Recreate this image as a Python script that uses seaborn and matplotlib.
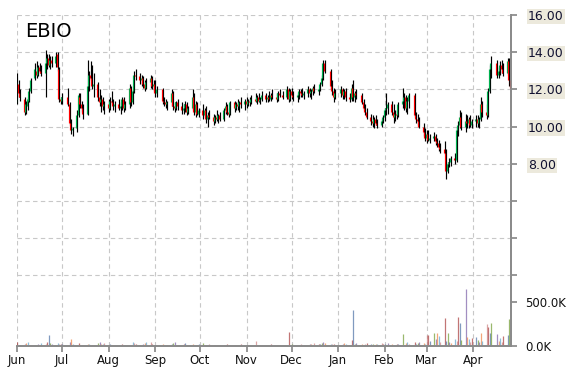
import numpy as np
import pandas as pd
import matplotlib
matplotlib.use("Agg")
import matplotlib.pyplot as plt
import seaborn as sns

sns.set_theme(style="white")
plt.rcParams['font.family'] = ['DejaVu Sans']

# ---------------- data ----------------
ticker = "EBIO"
holidays = ["2016-07-04", "2016-09-05", "2016-11-24", "2016-12-26",
            "2017-01-02", "2017-01-16", "2017-02-20", "2017-04-14"]
start_date, end_date = "2016-06-01", "2017-04-26"

opens = [
    11.3,12.3,11.8,11.5,10.8,11.1,11.4,11.9,12.6,13.0,12.8,13.2,13.0,12.9,13.4,13.7,13.3,13.6,13.4,13.9,13.1,11.5,
    11.4,11.6,11.2,10.2,9.8,9.9,10.6,11.6,11.2,11.0,10.7,12.2,12.8,12.6,12.2,12.3,11.6,11.3,11.5,11.1,
    11.2,11.0,11.4,11.3,11.1,11.2,11.0,11.1,11.5,11.0,11.2,12.1,11.3,11.9,12.8,12.7,12.5,12.6,12.3,12.1,12.4,12.6,12.2,
    12.3,11.8,12.0,11.4,11.3,11.2,11.3,11.8,11.1,11.0,11.3,11.1,10.9,11.0,11.2,10.8,11.0,11.6,10.8,11.2,10.7,
    10.9,10.6,10.9,10.4,10.6,10.5,10.3,10.5,10.4,10.6,10.4,10.9,11.1,10.8,10.7,11.3,11.0,11.2,11.1,11.3,11.2,
    11.4,11.2,11.4,11.3,11.5,11.4,11.6,11.4,11.5,11.7,11.5,11.6,11.5,11.7,11.6,11.5,11.8,11.7,11.6,12.0,11.5,
    11.9,11.7,11.6,11.7,11.9,11.8,11.7,11.8,12.0,11.8,11.9,12.1,11.9,12.0,12.3,12.6,13.4,13.0,12.2,11.9,11.6,
    11.8,12.0,11.7,11.9,11.6,11.5,12.1,11.6,11.8,11.7,11.3,11.0,10.8,10.5,10.3,10.2,10.4,10.2,10.1,10.3,
    10.5,10.9,11.0,11.2,10.8,10.5,10.7,10.6,11.2,11.4,11.6,11.0,11.4,11.7,10.6,10.4,10.3,10.0,9.7,
    9.4,9.6,9.3,9.4,9.5,9.2,9.1,8.9,8.8,8.6,7.6,8.0,8.1,8.3,8.2,9.8,10.1,10.5,10.0,10.3,10.2,10.4,10.1,
    10.3,10.4,10.2,10.4,11.2,10.8,10.6,11.9,13.1,13.4,12.8,13.0,13.3,13.1,12.9,13.5,12.5,
]
highs = [
    12.9,12.5,12.0,11.6,11.4,11.6,12.1,12.6,13.4,13.5,13.3,13.4,13.3,14.1,13.9,13.9,13.8,13.8,14.0,14.0,13.2,11.6,
    11.8,12.1,11.3,10.4,10.0,10.9,11.8,11.8,11.4,11.2,13.6,13.0,13.5,13.3,12.9,12.4,12.0,11.7,11.6,11.4,
    11.5,11.6,11.9,11.5,11.4,11.5,11.3,11.6,11.6,11.4,12.3,12.2,12.0,13.0,13.1,12.9,12.8,12.7,12.5,12.6,12.8,12.7,12.5,
    12.5,12.2,12.1,11.6,11.5,11.4,12.0,11.9,11.3,11.4,11.5,11.3,11.2,11.4,11.3,11.1,12.0,11.8,11.4,11.3,11.0,
    11.2,11.0,11.1,10.8,10.9,10.7,10.6,10.9,10.7,10.8,11.0,11.3,11.2,11.0,11.4,11.4,11.3,11.5,11.4,11.6,11.5,
    11.6,11.5,11.6,11.7,11.8,11.7,11.8,11.6,11.9,11.8,11.7,11.9,11.8,12.0,11.8,11.9,12.0,11.9,12.2,12.1,12.0,
    12.1,11.9,11.8,12.0,12.0,12.1,11.9,12.2,12.1,12.0,12.2,12.3,12.1,12.4,12.8,13.6,13.6,13.1,12.5,12.1,12.0,
    12.2,12.1,12.0,12.1,11.8,12.3,12.5,11.9,12.0,11.8,11.5,11.2,11.0,10.7,10.6,10.5,10.6,10.4,10.4,10.6,
    11.0,11.8,11.3,11.4,11.2,10.9,10.9,11.3,12.1,11.8,11.7,11.6,11.8,11.8,10.8,10.7,10.5,10.2,9.9,
    9.8,9.8,9.6,9.7,9.6,9.4,9.3,9.1,9.2,8.8,8.1,8.3,8.4,8.6,10.0,10.3,10.9,10.8,10.7,10.6,10.5,10.6,10.4,
    10.6,10.6,10.5,11.6,11.4,11.2,12.1,13.3,13.8,13.6,13.2,13.5,13.6,13.4,13.7,13.7,12.6,
]
lows = [
    11.2,11.6,11.4,10.6,10.7,10.9,11.3,11.8,12.5,12.6,12.7,12.9,12.7,11.6,13.1,13.2,13.1,13.2,13.2,13.0,11.3,11.2,
    11.2,11.1,10.1,9.6,9.5,9.7,10.5,11.0,10.8,10.4,10.6,11.9,12.5,12.0,11.6,11.4,11.1,10.8,10.9,10.7,
    10.8,10.9,11.2,10.9,10.8,10.9,10.7,10.9,10.8,10.9,11.0,11.1,11.2,11.8,12.5,12.3,12.2,12.1,11.9,12.0,12.1,12.0,11.9,
    11.6,11.6,11.2,11.1,11.0,10.9,11.1,10.9,10.8,10.9,10.9,10.7,10.7,10.8,10.6,10.7,10.9,10.6,10.5,10.6,10.5,
    10.4,10.5,10.2,10.0,10.4,10.1,10.2,10.3,10.2,10.3,10.3,10.7,10.6,10.5,10.6,10.8,10.9,10.9,10.8,11.0,10.9,
    11.0,11.1,11.1,11.2,11.3,11.2,11.3,11.2,11.4,11.3,11.3,11.4,11.4,11.5,11.3,11.4,11.6,11.5,11.5,11.3,11.4,
    11.5,11.4,11.3,11.5,11.6,11.6,11.5,11.6,11.6,11.5,11.7,11.8,11.7,11.9,12.2,12.5,12.9,12.0,11.7,11.3,11.5,
    11.6,11.5,11.5,11.4,11.3,11.4,11.4,11.3,11.5,11.2,10.9,10.6,10.4,10.1,10.0,9.9,10.1,9.9,10.0,10.2,
    10.3,10.6,10.7,10.6,10.2,10.3,10.4,10.5,11.0,10.9,10.8,10.7,11.0,10.5,10.2,10.1,9.9,9.5,9.2,
    9.1,9.2,9.1,9.2,9.0,8.9,8.7,8.6,8.5,7.2,7.5,7.8,7.9,8.0,8.1,9.5,9.9,9.8,9.7,9.9,9.9,10.0,9.9,
    10.0,10.0,9.9,10.3,10.5,10.4,10.5,11.8,12.6,12.6,12.6,12.8,12.9,12.7,12.8,12.2,11.9,
]
closes = [
    12.4,11.8,11.6,10.8,11.2,11.5,11.9,12.5,13.1,12.8,13.2,13.0,12.9,13.4,13.7,13.3,13.6,13.4,13.8,13.2,11.5,11.4,
    11.6,11.2,10.2,9.8,9.9,10.6,11.7,11.2,11.0,10.7,12.2,12.8,12.6,12.2,12.3,11.6,11.3,11.5,11.1,11.2,
    11.0,11.4,11.3,11.1,11.2,11.0,11.1,11.5,11.0,11.2,12.1,11.3,11.9,12.8,12.7,12.5,12.6,12.3,12.1,12.4,12.6,12.2,12.3,
    11.8,12.0,11.4,11.3,11.2,11.3,11.8,11.1,11.0,11.3,11.1,10.9,11.0,11.2,10.8,11.0,11.6,10.8,11.2,10.7,10.9,
    10.6,10.9,10.4,10.6,10.5,10.3,10.5,10.4,10.6,10.4,10.9,11.1,10.8,10.7,11.3,11.0,11.2,11.1,11.3,11.2,11.4,
    11.2,11.4,11.3,11.5,11.4,11.6,11.4,11.5,11.7,11.5,11.6,11.5,11.7,11.6,11.5,11.8,11.7,11.6,12.0,11.5,11.9,
    11.7,11.6,11.7,11.9,11.8,11.7,11.8,12.0,11.8,11.9,12.1,11.9,12.0,12.3,12.6,13.4,13.0,12.2,11.9,11.6,11.8,
    12.0,11.7,11.9,11.6,11.5,12.1,11.6,11.8,11.7,11.3,11.0,10.8,10.5,10.3,10.2,10.4,10.2,10.1,10.3,10.5,
    10.9,11.0,11.2,10.8,10.5,10.7,10.6,11.2,11.4,11.6,11.0,11.4,11.7,10.6,10.4,10.3,10.0,9.7,9.4,
    9.6,9.3,9.4,9.5,9.2,9.1,8.9,8.8,8.6,7.6,8.0,8.1,8.3,8.2,9.8,10.1,10.5,10.0,10.3,10.2,10.4,10.1,10.3,
    10.4,10.2,10.4,11.2,10.8,10.6,11.9,13.1,13.4,12.8,13.0,13.3,13.1,12.9,13.5,12.5,12.1,
]
volume_k = [
    45,10,15,20,30,40,15,10,8,12,20,15,30,25,40,125,30,20,15,30,25,20,
    20,15,40,75,20,15,30,10,15,12,20,25,15,10,15,30,45,20,25,30,
    15,20,10,8,15,12,10,20,15,8,15,10,50,30,20,15,12,25,30,40,45,20,10,
    15,10,20,12,15,10,20,35,40,15,10,12,20,30,10,15,20,12,10,15,20,
    30,15,10,12,20,10,8,15,10,12,10,15,20,10,12,10,8,15,10,20,12,
    15,10,12,10,60,15,10,12,10,15,12,10,20,15,10,8,12,10,15,160,12,
    20,15,10,12,20,15,10,15,25,20,15,30,25,20,35,40,30,20,25,20,15,
    15,20,30,25,15,70,410,20,30,25,15,20,30,25,20,15,20,25,30,20,
    20,15,30,20,15,10,25,20,140,15,30,45,20,50,25,35,45,30,20,
    125,120,60,150,80,145,118,40,320,60,145,40,30,80,60,330,260,70,648,105,75,40,90,
    100,70,40,150,60,250,215,150,265,140,60,90,50,110,130,305,200,
]
price_ticks = [2, 4, 6, 8, 10, 12, 14, 16]
price_labels = ["", "", "", "8.00", "10.00", "12.00", "14.00", "16.00"]
volume_ticks = [0, 500]
volume_labels = ["0.0K", "500.0K"]

dates = pd.bdate_range(start_date, end_date, freq="C", holidays=holidays)
n = len(dates)
for name, arr in [("opens", opens), ("highs", highs), ("lows", lows),
                  ("closes", closes), ("volume", volume_k)]:
    if len(arr) != n:
        raise SystemExit(f"{name}: {len(arr)} vs {n} dates")

df = pd.DataFrame({"date": dates, "open": opens, "high": highs,
                   "low": lows, "close": closes, "volume": volume_k})
df["up"] = df["close"] >= df["open"]

# ---------------- figure ----------------
W, H = 570, 370
fig = plt.figure(figsize=(W / 100, H / 100), dpi=100)
fig.patch.set_facecolor("white")
rect = [17 / W, 24 / H, 494 / W, 331 / H]
axv = fig.add_axes(rect)          # volume (bottom layer)
ax = axv.twinx()                  # price (top layer)

grid_kw = dict(color="#c8c8c8", linestyle=(0, (4, 3)), linewidth=0.8)
spine_col = "#8a8a8a"

# volume bars
vol_palette = ["#a83a3a", "#4a6fa5", "#6f9a2f", "#7b5ea7", "#ee8040", "#5fa4cc", "#cc8080"]
vcols = [vol_palette[i % len(vol_palette)] for i in range(n)]
axv.vlines(df["date"], 0, df["volume"], colors=vcols, linewidth=0.9, alpha=0.7)
axv.set_ylim(0, 500 * 331 / 44)
axv.set_yticks(volume_ticks, volume_labels)

# month gridlines on the volume axes
months = pd.date_range("2016-06-01", "2017-04-01", freq="MS")
axv.set_xticks(months, [m.strftime("%b") for m in months])
axv.grid(axis="x", **grid_kw)
axv.grid(axis="y", visible=False)
axv.set_xlim(pd.Timestamp("2016-06-01"), pd.Timestamp("2017-04-26 08:00"))

# price grid + candles
ax.set_ylim(-1.8, 16.0)
ax.set_yticks(price_ticks, price_labels)
ax.grid(axis="y", **grid_kw)
ax.grid(axis="x", visible=False)
ax.vlines(df["date"] + pd.Timedelta(hours=6), df["low"], df["high"],
          colors="black", linewidth=0.85)
body_cols = np.where(df["up"], "#00b050", "#ff0000")
ax.vlines(df["date"] - pd.Timedelta(hours=12), df["open"], df["close"],
          colors=body_cols, linewidth=0.85)
ax.set_xlim(axv.get_xlim())

# axes styling
for a in (ax, axv):
    a.set_facecolor("none")
    a.spines["left"].set_visible(False)
    a.spines["top"].set_visible(False)
    a.spines["right"].set_color(spine_col)
    a.spines["bottom"].set_color(spine_col)
    a.set_xlabel("")
    a.set_ylabel("")
axv.set_facecolor("white")

axv.tick_params(axis="y", left=False, right=True, labelleft=False, labelright=True,
                length=4, color=spine_col, pad=6, labelsize=8.5, labelcolor="#111111")
ax.tick_params(axis="y", left=False, right=True, labelleft=False, labelright=True,
               length=4, color=spine_col, pad=8, labelsize=9, labelcolor="#101030")
axv.tick_params(axis="x", bottom=True, length=4, color=spine_col, pad=1.5,
                labelsize=8.5, labelcolor="#111111")
ax.tick_params(axis="x", bottom=False, labelbottom=False)

for tk in ax.yaxis.get_major_ticks():
    tk.label2.set_bbox(dict(facecolor="#ece9dc", edgecolor="none", pad=0.8))

ax.text(0.016, 0.978, ticker, transform=ax.transAxes, fontsize=14,
        va="top", ha="left", color="black")

fig.savefig("out.png", dpi=100)
